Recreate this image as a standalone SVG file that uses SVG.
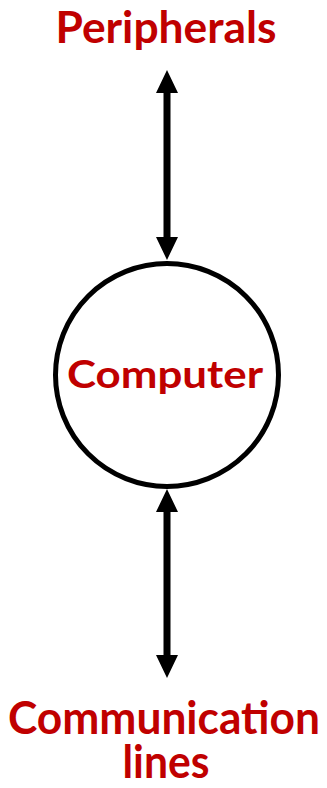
<svg xmlns="http://www.w3.org/2000/svg" width="327" height="788" viewBox="0 0 327 788">
<style>
.lbl{font-family:Lato,"Open Sans","Liberation Sans",sans-serif;font-weight:bold;fill:#C00000;}
.conn{stroke:#000;stroke-width:7;fill:none;}
</style>
<rect width="327" height="788" fill="#fff"/>
<g id="connectors">
<line class="conn" x1="167" y1="90" x2="167" y2="240"/>
<line class="conn" x1="167" y1="509" x2="167" y2="658"/>
<path d="M156,93 L167,70 L178,93 Z M156,237 L167,260 L178,237 Z M156,512 L167,489 L178,512 Z M156,655 L167,678 L178,655 Z" fill="#000"/>
</g>
<g id="peripherals">
<text class="lbl" x="166" y="43" font-size="43" text-anchor="middle" textLength="221" lengthAdjust="spacingAndGlyphs">Peripherals</text>
</g>
<g id="computer">
<circle cx="167" cy="375" r="111.5" fill="#fff" stroke="#000" stroke-width="5"/>
<text class="lbl" x="165" y="388" font-size="38" text-anchor="middle" textLength="196" lengthAdjust="spacingAndGlyphs">Computer</text>
</g>
<g id="communication">
<text class="lbl" font-size="46" text-anchor="middle"><tspan x="164" y="734" textLength="312" lengthAdjust="spacingAndGlyphs">Communication</tspan><tspan x="166" y="778" textLength="87" lengthAdjust="spacingAndGlyphs">lines</tspan></text>
</g>
</svg>
